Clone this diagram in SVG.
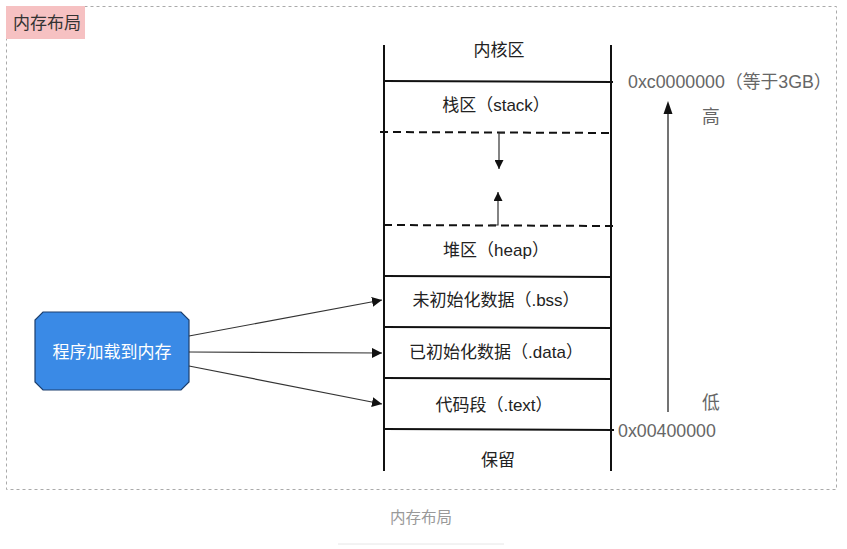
<svg xmlns="http://www.w3.org/2000/svg" width="847" height="549" viewBox="0 0 847 549">
<defs>
<style>
text{font-family:"Liberation Sans","Noto Sans CJK SC",sans-serif;font-size:17px;fill:#222}
.lbl{text-anchor:middle}
.gray{fill:#666;font-size:17.8px}
.ln{stroke:#111;stroke-width:2;fill:none}
.dash{stroke:#111;stroke-width:2;stroke-dasharray:8 5;fill:none}
.conn{stroke:#333;stroke-width:1.2;fill:none}
</style>
<marker id="ah" viewBox="0 0 10 10" refX="10" refY="5" markerWidth="9" markerHeight="9" markerUnits="userSpaceOnUse" orient="auto">
<path d="M0,0 L10,5 L0,10 z" fill="#111"/>
</marker>
<marker id="ah2" viewBox="0 0 10 10" refX="10" refY="5" markerWidth="10" markerHeight="10" markerUnits="userSpaceOnUse" orient="auto">
<path d="M0,0 L10,5 L0,10 z" fill="#111"/>
</marker>
</defs>
<rect width="847" height="549" fill="#fff"/>
<rect x="6.5" y="6.5" width="830" height="483" fill="none" stroke="#aaa" stroke-width="1" stroke-dasharray="3 3"/>
<g id="title">
<rect x="6" y="6" width="79" height="33" fill="#f6c1c2"/>
<text x="13" y="29" style="fill:#333">内存布局</text>
</g>
<g id="memory">
<line class="ln" x1="384" y1="45" x2="384" y2="471"/>
<line class="ln" x1="611" y1="45" x2="611" y2="471"/>
<line class="ln" x1="384" y1="81" x2="613" y2="82"/>
<line class="dash" x1="380" y1="132" x2="613" y2="133"/>
<line class="dash" x1="384" y1="225" x2="614" y2="226"/>
<line class="ln" x1="384" y1="276" x2="612" y2="277"/>
<line class="ln" x1="384" y1="327" x2="612" y2="328"/>
<line class="ln" x1="384" y1="378" x2="612" y2="379"/>
<line class="ln" x1="384" y1="429" x2="614" y2="430"/>
<text class="lbl" x="499" y="56">内核区</text>
<text class="lbl" x="496" y="111">栈区（stack）</text>
<text class="lbl" x="496" y="256">堆区（heap）</text>
<text class="lbl" x="496" y="306">未初始化数据（.bss）</text>
<text class="lbl" x="496" y="358">已初始化数据（.data）</text>
<text class="lbl" x="494" y="411">代码段（.text）</text>
<text class="lbl" x="498" y="466">保留</text>
<polyline class="conn" points="505,133 499,133 499,169" marker-end="url(#ah)"/>
<polyline class="conn" points="490,225 498,225 498,192" marker-end="url(#ah)"/>
</g>
<g id="address">
<text class="gray" x="628" y="88">0xc0000000（等于3GB）</text>
<text class="gray" x="702" y="123">高</text>
<text class="gray" x="702" y="409">低</text>
<text class="gray" x="618" y="437">0x00400000</text>
<line x1="668" y1="412" x2="668" y2="112" stroke="#444" stroke-width="1.5"/>
<path d="M663.5,114 L668,101 L672.5,114 z" fill="#111"/>
</g>
<g id="loader">
<path d="M43,312 L181,312 L189,320 L189,382 L181,390 L43,390 L35,382 L35,320 z" fill="#3a8ae6" stroke="#1c3f6e" stroke-width="1.2"/>
<text class="lbl" x="112" y="358" style="fill:#fff">程序加载到内存</text>
</g>
<g id="connectors">
<line class="conn" x1="189" y1="336" x2="382" y2="300" marker-end="url(#ah2)"/>
<line class="conn" x1="189" y1="352" x2="382" y2="353" marker-end="url(#ah2)"/>
<line class="conn" x1="189" y1="366" x2="382" y2="404" marker-end="url(#ah2)"/>
</g>
<g id="caption">
<text class="lbl" x="421" y="523" style="font-size:15.5px;fill:#999">内存布局</text>
<line x1="338" y1="544" x2="504" y2="544" stroke="#e6e6e6" stroke-width="1"/>
</g>
</svg>
